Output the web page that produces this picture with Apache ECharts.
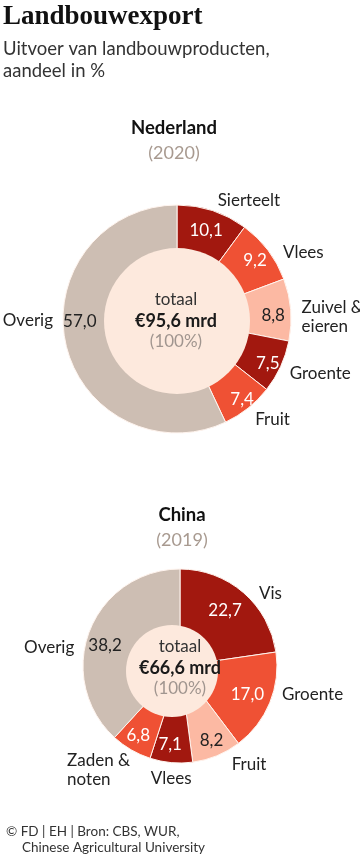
<!DOCTYPE html>
<html><head><meta charset="utf-8">
<script src="https://cdn.jsdelivr.net/npm/echarts@6/dist/echarts.min.js"></script>
<style>html,body{margin:0;padding:0;background:#fff}#c{width:360px;height:858px}</style>
</head><body><div id="c"></div>
<script>
// ---- data ----
const nlNames = ['Sierteelt', 'Vlees', 'Zuivel &\neieren', 'Groente', 'Fruit', 'Overig'];
const nlValues = [10.1, 9.2, 8.8, 7.5, 7.4, 57.0];
const nlTotal = '€95,6 mrd';
const cnNames = ['Vis', 'Groente', 'Fruit', 'Vlees', 'Zaden &\nnoten', 'Overig'];
const cnValues = [22.7, 17.0, 8.2, 7.1, 6.8, 38.2];
const cnTotal = '€66,6 mrd';

// ---- styles ----
const DARK = '#a2180f', ORANGE = '#ef5134', SALMON = '#fcb9a3', TAUPE = '#cdbeb3', PEACH = '#fde9dd';
const nlColors = [DARK, ORANGE, SALMON, DARK, ORANGE, TAUPE];
const cnColors = [DARK, ORANGE, SALMON, DARK, ORANGE, TAUPE];
const nlValColors = ['#fff', '#fff', '#222', '#fff', '#fff', '#222'];
const cnValColors = ['#fff', '#fff', '#222', '#fff', '#fff', '#222'];
const SANS = 'Lato';

// label nudges [dx, dy, align]
const nlNameNudge = [[-3,-1],[2,8],[-4,8],[-5,3],[-4,3],[2,-26]];
const nlValNudge = [[-1,3],[1,0],[0,4],[3,4],[5,5],[-3,-19]];
const cnNameNudge = [[4,8],[-2,-12],[6,0],[6,6,'center'],[-54,12,'left'],[-1,20]];
const cnValNudge = [[-4,1],[-2,0],[3,5],[-3,4],[-4,5],[-5,7]];

const fmt = v => v.toFixed(1).replace('.', ',');

function donut(cfg) {
  const fill = {
    type: 'pie', silent: true, center: cfg.center, radius: [0, cfg.r], startAngle: 90,
    label: {show: false}, labelLine: {show: false},
    itemStyle: {borderColor: '#fff4ee', borderWidth: 1},
    data: cfg.values.map((v, i) => ({value: v, name: cfg.names[i], itemStyle: {color: cfg.colors[i]}}))
  };
  const vals = {
    type: 'pie', silent: true, center: cfg.center, radius: [cfg.valR0, cfg.r], startAngle: 90,
    avoidLabelOverlap: false, labelLine: {show: false},
    itemStyle: {color: 'rgba(0,0,0,0)'},
    label: {show: true, position: 'inside', fontFamily: SANS, fontSize: 17, formatter: p => fmt(p.value)},
    labelLayout: p => ({dx: cfg.valNudge[p.dataIndex][0], dy: cfg.valNudge[p.dataIndex][1]}),
    data: cfg.values.map((v, i) => ({value: v, name: cfg.names[i], label: {color: cfg.valColors[i]}}))
  };
  const names = {
    type: 'pie', silent: true, center: cfg.center, radius: [cfg.valR0, cfg.r], startAngle: 90,
    avoidLabelOverlap: false,
    itemStyle: {color: 'rgba(0,0,0,0)'},
    labelLine: {show: false, length: cfg.lineLen, length2: 0},
    label: {show: true, position: 'outside', fontFamily: SANS, fontSize: 17, color: '#222', lineHeight: 19,
      distanceToLabelLine: 5, formatter: p => p.name},
    labelLayout: p => {
      const n = cfg.nameNudge[p.dataIndex];
      const o = {dx: n[0], dy: n[1]};
      if (n[2]) o.align = n[2];
      return o;
    },
    data: cfg.values.map((v, i) => ({value: v, name: cfg.names[i]}))
  };
  const hole = {
    type: 'pie', silent: true, center: cfg.holeCenter, radius: [0, cfg.holeR], z: 3,
    label: {show: false}, labelLine: {show: false},
    itemStyle: {color: PEACH},
    data: [{value: 1, name: 'totaal'}]
  };
  return [fill, vals, names, hole];
}

function centerText(x, y, total) {
  return [
    {type: 'text', z: 10, style: {text: 'totaal', x: x, y: y - 21, textAlign: 'center', textVerticalAlign: 'middle', fill: '#333', fontFamily: SANS, fontSize: 17}},
    {type: 'text', z: 10, style: {text: total, x: x, y: y, textAlign: 'center', textVerticalAlign: 'middle', fill: '#1a1a1a', fontFamily: SANS, fontSize: 18, fontWeight: 'bold'}},
    {type: 'text', z: 10, style: {text: '(100%)', x: x, y: y + 21, textAlign: 'center', textVerticalAlign: 'middle', fill: '#a0958f', fontFamily: SANS, fontSize: 17}}
  ];
}

const chart = echarts.init(document.getElementById('c'), null, {renderer: 'canvas'});
chart.setOption({
  animation: false,
  backgroundColor: '#fff',
  series: [].concat(
    donut({center: [177, 319], r: 114, valR0: 73, lineLen: 10, holeCenter: [177, 321], holeR: 73,
      names: nlNames, values: nlValues, colors: nlColors, valColors: nlValColors,
      nameNudge: nlNameNudge, valNudge: nlValNudge}),
    donut({center: [180, 666], r: 97, valR0: 47, lineLen: 10, holeCenter: [172, 671], holeR: 46,
      names: cnNames, values: cnValues, colors: cnColors, valColors: cnValColors,
      nameNudge: cnNameNudge, valNudge: cnValNudge})
  ),
  graphic: [
    {type: 'text', style: {text: 'Landbouwexport', x: 3, y: 17, textVerticalAlign: 'middle', fill: '#111', fontFamily: 'Liberation Serif', fontSize: 27, fontWeight: 'bold'}},
    {type: 'text', style: {text: 'Uitvoer van landbouwproducten,', x: 3, y: 49, textVerticalAlign: 'middle', fill: '#333', fontFamily: SANS, fontSize: 18.5}},
    {type: 'text', style: {text: 'aandeel in %', x: 3, y: 71, textVerticalAlign: 'middle', fill: '#333', fontFamily: SANS, fontSize: 18.5}},
    {type: 'text', style: {text: 'Nederland', x: 174, y: 128, textAlign: 'center', textVerticalAlign: 'middle', fill: '#111', fontFamily: SANS, fontSize: 18.5, fontWeight: 'bold'}},
    {type: 'text', style: {text: '(2020)', x: 174, y: 153, textAlign: 'center', textVerticalAlign: 'middle', fill: '#a89a90', fontFamily: SANS, fontSize: 18}},
    {type: 'text', style: {text: 'China', x: 182, y: 515, textAlign: 'center', textVerticalAlign: 'middle', fill: '#111', fontFamily: SANS, fontSize: 18.5, fontWeight: 'bold'}},
    {type: 'text', style: {text: '(2019)', x: 182, y: 540, textAlign: 'center', textVerticalAlign: 'middle', fill: '#a89a90', fontFamily: SANS, fontSize: 18}},
    {type: 'text', style: {text: '© FD | EH | Bron: CBS, WUR,', x: 6, y: 832, textVerticalAlign: 'middle', fill: '#333', fontFamily: SANS, fontSize: 13.5}},
    {type: 'text', style: {text: 'Chinese Agricultural University', x: 22, y: 848, textVerticalAlign: 'middle', fill: '#333', fontFamily: SANS, fontSize: 13.5}}
  ].concat(centerText(176, 321, nlTotal), centerText(180, 668, cnTotal))
});
</script></body></html>
